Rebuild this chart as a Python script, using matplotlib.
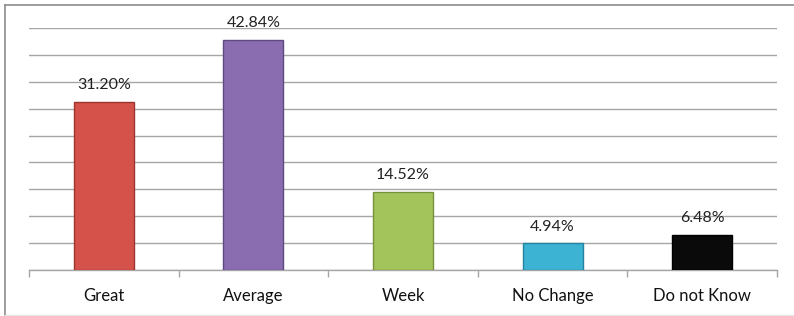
import matplotlib.pyplot as plt
from matplotlib.lines import Line2D

categories = ['Great', 'Average', 'Week', 'No Change', 'Do not Know']
values = [31.20, 42.84, 14.52, 4.94, 6.48]
bar_colors = ['#d4524a', '#8a6cb0', '#a3c45a', '#3cb3d3', '#0a0a0a']
edge_colors = ['#9e3430', '#5f4a80', '#78913c', '#24839e', '#000000']

plt.rcParams['font.family'] = ['Lato', 'DejaVu Sans']

fig = plt.figure(figsize=(7.94, 3.16), dpi=100)
ax = fig.add_axes([29 / 794, 46 / 316, 748 / 794, 242 / 316])

x = range(len(categories))
ax.bar(x, values, width=0.4, color=bar_colors, edgecolor=edge_colors,
       linewidth=1.0, zorder=3)

for xi, v in zip(x, values):
    ax.annotate('%.2f%%' % v, (xi, v), xytext=(0, 7), textcoords='offset points',
                ha='center', va='bottom', fontsize=11.5, color='#222222')

ax.set_xlim(-0.5, len(categories) - 0.5)
ax.set_ylim(0, 45)
ax.set_yticks(range(0, 46, 5))
ax.yaxis.grid(True, color='#a6a6a6', linewidth=1.0, zorder=0)
ax.tick_params(axis='y', left=False, labelleft=False)

# ticks at category boundaries
ax.set_xticks([i - 0.5 for i in range(len(categories) + 1)])
ax.set_xticklabels([])
ax.set_xticks(list(x), minor=True)
ax.set_xticklabels(categories, minor=True, fontsize=12, color='#111111')
ax.tick_params(axis='x', which='major', direction='out', length=5,
               color='#a6a6a6', width=1.0)
ax.tick_params(axis='x', which='minor', length=0, pad=13)

for s in ['top', 'right', 'left']:
    ax.spines[s].set_visible(False)
ax.spines['bottom'].set_color('#a6a6a6')
ax.spines['bottom'].set_linewidth(1.0)

# outer chart frame
fig.add_artist(Line2D([5 / 794, 5 / 794], [1 / 316, 311 / 316], color='#8c8c8c',
                      linewidth=1.2, transform=fig.transFigure))
fig.add_artist(Line2D([5 / 794, 1.0], [311 / 316, 311 / 316], color='#8c8c8c',
                      linewidth=1.2, transform=fig.transFigure))
fig.add_artist(Line2D([5 / 794, 1.0], [1.5 / 316, 1.5 / 316], color='#e6e6e6',
                      linewidth=1.0, transform=fig.transFigure))

fig.savefig('out.png', dpi=100)
